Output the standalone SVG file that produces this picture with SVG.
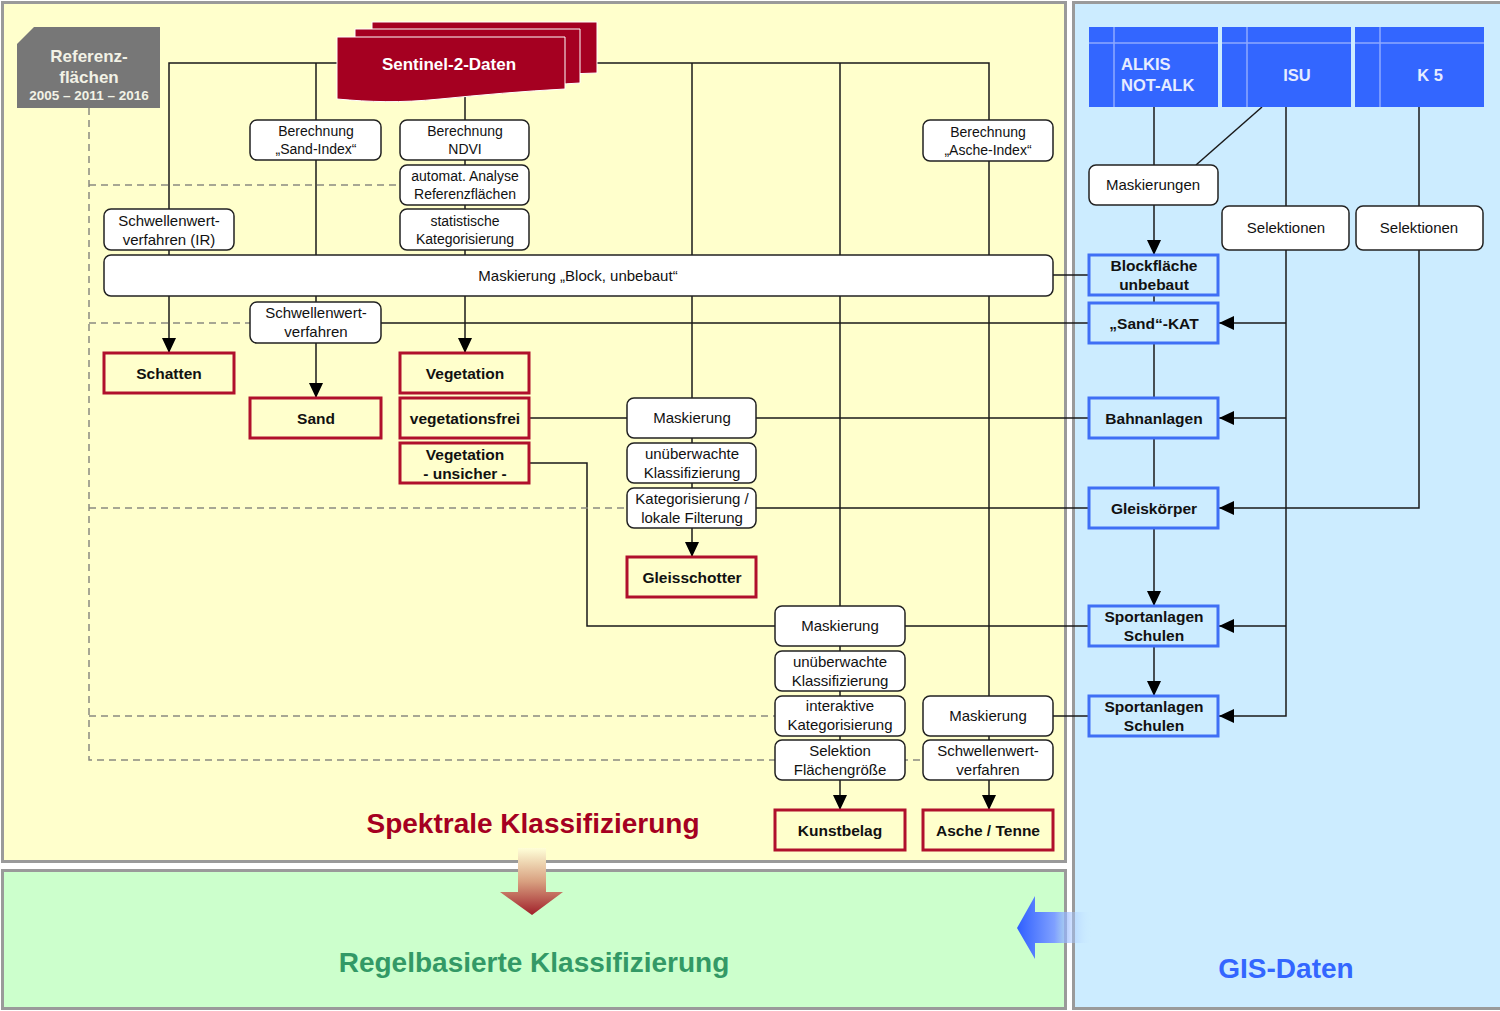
<svg xmlns="http://www.w3.org/2000/svg" width="1500" height="1011" viewBox="0 0 1500 1011">
<defs>
<style>
.t{font-family:"Liberation Sans",Arial,sans-serif;fill:#111;text-anchor:middle}
.s14{font-size:14px}
.s15{font-size:15px}
.b{font-size:15.5px;font-weight:bold}
.n{fill:#fff;stroke:#222;stroke-width:1.5}
.r{fill:#FFFFCC;stroke:#B0102C;stroke-width:3}
.g{fill:#CCECFF;stroke:#3F6FF5;stroke-width:3}
.c{fill:none;stroke:#1a1a1a;stroke-width:1.5}
.d{fill:none;stroke:#8a8a80;stroke-width:1.5;stroke-dasharray:7 5}
.hb{fill:#3366FF}
.hl{stroke:#8FAAFF;stroke-width:1.5}
.ht{font-family:"Liberation Sans",Arial,sans-serif;font-size:16.5px;font-weight:bold;fill:#E6ECFF}
</style>
<marker id="ah" markerUnits="userSpaceOnUse" markerWidth="15" markerHeight="14" refX="15" refY="7" orient="auto">
<path d="M0,0 L15,7 L0,14 Z" fill="#000"/>
</marker>
<linearGradient id="redg" x1="0" y1="0" x2="0" y2="1">
<stop offset="0" stop-color="#FFFFD8"/>
<stop offset="0.5" stop-color="#D8A080"/>
<stop offset="1" stop-color="#A0202A"/>
</linearGradient>
<linearGradient id="blug" gradientUnits="userSpaceOnUse" x1="1017" y1="0" x2="1092" y2="0">
<stop offset="0" stop-color="#2F5FFF"/>
<stop offset="0.5" stop-color="#7FA0FF"/>
<stop offset="1" stop-color="#CCECFF" stop-opacity="0"/>
</linearGradient>
</defs>

<rect width="1500" height="1011" fill="#fff"/>
<g id="panels">
<rect x="2.5" y="2.5" width="1063" height="859" fill="#FFFFCC" stroke="#9A9A9A" stroke-width="3"/>
<rect x="2.5" y="870.5" width="1063" height="138" fill="#CCFFCC" stroke="#9A9A9A" stroke-width="3"/>
<rect x="1073.5" y="2.5" width="1423" height="1006" fill="#CCECFF" stroke="#9A9A9A" stroke-width="3" transform="translate(0,0)"/>
</g>

<g id="connectors">
<path class="c" d="M169,209 V63 H989 V120"/>
<path class="c" d="M169,250 V255"/>
<path class="c" d="M169,296 V353" marker-end="url(#ah)"/>
<path class="c" d="M316,63 V302"/>
<path class="c" d="M316,343 V398" marker-end="url(#ah)"/>
<path class="c" d="M465,95 V353" marker-end="url(#ah)"/>
<path class="c" d="M692,63 V557" marker-end="url(#ah)"/>
<path class="c" d="M840,63 V810" marker-end="url(#ah)"/>
<path class="c" d="M989,161 V810" marker-end="url(#ah)"/>
<path class="c" d="M1053,275 H1089"/>
<path class="c" d="M381,323 H1089"/>
<path class="c" d="M529,418 H1089"/>
<path class="c" d="M756,508 H1089"/>
<path class="c" d="M529,463 H587 V626 H1089"/>
<path class="c" d="M1053,716 H1089"/>
<path class="c" d="M1154,107 V255" marker-end="url(#ah)"/>
<path class="c" d="M1154,295 V303"/>
<path class="c" d="M1154,343 V488"/>
<path class="c" d="M1154,528 V606" marker-end="url(#ah)"/>
<path class="c" d="M1154,646 V696" marker-end="url(#ah)"/>
<path class="c" d="M1262,107 L1196,165"/>
<path class="c" d="M1286,107 V206"/>
<path class="c" d="M1286,250 V716 H1219" marker-end="url(#ah)"/>
<path class="c" d="M1286,323 H1219" marker-end="url(#ah)"/>
<path class="c" d="M1286,418 H1219" marker-end="url(#ah)"/>
<path class="c" d="M1286,626 H1219" marker-end="url(#ah)"/>
<path class="c" d="M1419,107 V206"/>
<path class="c" d="M1419,250 V508 H1219" marker-end="url(#ah)"/>
<path class="d" d="M89,108 V760 H923"/>
<path class="d" d="M89,185 H400"/>
<path class="d" d="M89,323 H250"/>
<path class="d" d="M89,508 H627"/>
<path class="d" d="M89,716 H775"/>
</g>

<g id="referenz">
<polygon points="17,44 34,27 160,27 160,108 17,108" fill="#777"/>
<text x="89" y="62" style="font-family:'Liberation Sans',Arial,sans-serif;font-size:17px;font-weight:bold;fill:#F2F2E6;text-anchor:middle">Referenz-</text>
<text x="89" y="83" style="font-family:'Liberation Sans',Arial,sans-serif;font-size:17px;font-weight:bold;fill:#F2F2E6;text-anchor:middle">flächen</text>
<text x="89" y="100" style="font-family:'Liberation Sans',Arial,sans-serif;font-size:13.5px;font-weight:bold;fill:#F2F2E6;text-anchor:middle">2005 – 2011 – 2016</text>
</g>

<g id="sentinel">
<path d="M372,22 H597 V73 C560,74 520,77 480,79 L372,79 Z" fill="#A50021" stroke="#fff" stroke-width="1"/>
<path d="M355,29 H580 V83 C545,85 505,88 465,90 L355,90 Z" fill="#A50021" stroke="#fff" stroke-width="1"/>
<path d="M337,37 H565 V89 C525,91 480,95 440,99 C400,103 370,102 337,99 Z" fill="#A50021" stroke="#fff" stroke-width="1"/>
<text x="449" y="70" style="font-family:'Liberation Sans',Arial,sans-serif;font-size:17px;font-weight:bold;fill:#fff;text-anchor:middle">Sentinel-2-Daten</text>
</g>

<g id="n-sandidx"><rect class="n" x="250" y="120" width="131" height="40" rx="7"/><text class="t s14" x="316" y="136">Berechnung</text><text class="t s14" x="316" y="154">„Sand-Index“</text></g>
<g id="n-ndvi"><rect class="n" x="400" y="120" width="129" height="40" rx="7"/><text class="t s14" x="465" y="136">Berechnung</text><text class="t s14" x="465" y="154">NDVI</text></g>
<g id="n-auto"><rect class="n" x="400" y="165" width="129" height="40" rx="7"/><text class="t s14" x="465" y="181">automat. Analyse</text><text class="t s14" x="465" y="199">Referenzflächen</text></g>
<g id="n-stat"><rect class="n" x="400" y="209" width="129" height="41" rx="7"/><text class="t s14" x="465" y="226">statistische</text><text class="t s14" x="465" y="244">Kategorisierung</text></g>
<g id="n-asche"><rect class="n" x="923" y="120" width="130" height="41" rx="7"/><text class="t s14" x="988" y="137">Berechnung</text><text class="t s14" x="988" y="155">„Asche-Index“</text></g>
<g id="n-swir"><rect class="n" x="104" y="209" width="130" height="41" rx="7"/><text class="t s15" x="169" y="226">Schwellenwert-</text><text class="t s15" x="169" y="245">verfahren (IR)</text></g>
<g id="n-block"><rect class="n" x="104" y="255" width="949" height="41" rx="7"/><text class="t s15" x="578" y="281">Maskierung „Block, unbebaut“</text></g>
<g id="n-sw2"><rect class="n" x="250" y="302" width="131" height="41" rx="7"/><text class="t s15" x="316" y="318">Schwellenwert-</text><text class="t s15" x="316" y="337">verfahren</text></g>
<g id="n-mask1"><rect class="n" x="627" y="398" width="129" height="40" rx="7"/><text class="t s15" x="692" y="423">Maskierung</text></g>
<g id="n-unue1"><rect class="n" x="627" y="443" width="129" height="40" rx="7"/><text class="t s15" x="692" y="459">unüberwachte</text><text class="t s15" x="692" y="478">Klassifizierung</text></g>
<g id="n-kat"><rect class="n" x="627" y="488" width="129" height="40" rx="7"/><text class="t s15" x="692" y="504">Kategorisierung /</text><text class="t s15" x="692" y="523">lokale Filterung</text></g>
<g id="n-mask2"><rect class="n" x="775" y="606" width="130" height="40" rx="7"/><text class="t s15" x="840" y="631">Maskierung</text></g>
<g id="n-unue2"><rect class="n" x="775" y="651" width="130" height="40" rx="7"/><text class="t s15" x="840" y="667">unüberwachte</text><text class="t s15" x="840" y="686">Klassifizierung</text></g>
<g id="n-inter"><rect class="n" x="775" y="696" width="130" height="40" rx="7"/><text class="t s15" x="840" y="711">interaktive</text><text class="t s15" x="840" y="730">Kategorisierung</text></g>
<g id="n-sel"><rect class="n" x="775" y="740" width="130" height="40" rx="7"/><text class="t s15" x="840" y="756">Selektion</text><text class="t s15" x="840" y="775">Flächengröße</text></g>
<g id="n-mask3"><rect class="n" x="923" y="696" width="130" height="40" rx="7"/><text class="t s15" x="988" y="721">Maskierung</text></g>
<g id="n-sw3"><rect class="n" x="923" y="740" width="130" height="40" rx="7"/><text class="t s15" x="988" y="756">Schwellenwert-</text><text class="t s15" x="988" y="775">verfahren</text></g>

<g id="r-schatten"><rect class="r" x="104" y="353" width="130" height="40"/><text class="t b" x="169" y="379">Schatten</text></g>
<g id="r-sand"><rect class="r" x="250" y="398" width="131" height="40"/><text class="t b" x="316" y="424">Sand</text></g>
<g id="r-veg"><rect class="r" x="400" y="353" width="129" height="40"/><text class="t b" x="465" y="379">Vegetation</text></g>
<g id="r-vegfrei"><rect class="r" x="400" y="398" width="129" height="40"/><text class="t b" x="465" y="424">vegetationsfrei</text></g>
<g id="r-vegun"><rect class="r" x="400" y="443" width="129" height="40"/><text class="t b" x="465" y="460">Vegetation</text><text class="t b" x="465" y="479">- unsicher -</text></g>
<g id="r-gleis"><rect class="r" x="627" y="557" width="129" height="40"/><text class="t b" x="692" y="583">Gleisschotter</text></g>
<g id="r-kunst"><rect class="r" x="775" y="810" width="130" height="40"/><text class="t b" x="840" y="836">Kunstbelag</text></g>
<g id="r-asche"><rect class="r" x="923" y="810" width="130" height="40"/><text class="t b" x="988" y="836">Asche / Tenne</text></g>

<g id="h-alkis"><rect class="hb" x="1089" y="27" width="129" height="80"/><line class="hl" x1="1089" y1="43" x2="1218" y2="43"/><line class="hl" x1="1114" y1="27" x2="1114" y2="107"/><text class="ht" x="1121" y="70">ALKIS</text><text class="ht" x="1121" y="91">NOT-ALK</text></g>
<g id="h-isu"><rect class="hb" x="1222" y="27" width="129" height="80"/><line class="hl" x1="1222" y1="43" x2="1351" y2="43"/><line class="hl" x1="1247" y1="27" x2="1247" y2="107"/><text class="ht" x="1297" y="81" text-anchor="middle">ISU</text></g>
<g id="h-k5"><rect class="hb" x="1355" y="27" width="129" height="80"/><line class="hl" x1="1355" y1="43" x2="1484" y2="43"/><line class="hl" x1="1380" y1="27" x2="1380" y2="107"/><text class="ht" x="1430" y="81" text-anchor="middle">K 5</text></g>

<g id="n-maskgis"><rect class="n" x="1089" y="165" width="129" height="40" rx="7"/><text class="t s15" x="1153" y="190">Maskierungen</text></g>
<g id="n-sel1"><rect class="n" x="1222" y="206" width="127" height="44" rx="7"/><text class="t s15" x="1286" y="233">Selektionen</text></g>
<g id="n-sel2"><rect class="n" x="1356" y="206" width="127" height="44" rx="7"/><text class="t s15" x="1419" y="233">Selektionen</text></g>

<g id="g-block"><rect class="g" x="1089" y="255" width="129" height="40"/><text class="t b" x="1154" y="271">Blockfläche</text><text class="t b" x="1154" y="290">unbebaut</text></g>
<g id="g-sandkat"><rect class="g" x="1089" y="303" width="129" height="40"/><text class="t b" x="1154" y="329">„Sand“-KAT</text></g>
<g id="g-bahn"><rect class="g" x="1089" y="398" width="129" height="40"/><text class="t b" x="1154" y="424">Bahnanlagen</text></g>
<g id="g-gleis"><rect class="g" x="1089" y="488" width="129" height="40"/><text class="t b" x="1154" y="514">Gleiskörper</text></g>
<g id="g-sport1"><rect class="g" x="1089" y="606" width="129" height="40"/><text class="t b" x="1154" y="622">Sportanlagen</text><text class="t b" x="1154" y="641">Schulen</text></g>
<g id="g-sport2"><rect class="g" x="1089" y="696" width="129" height="40"/><text class="t b" x="1154" y="712">Sportanlagen</text><text class="t b" x="1154" y="731">Schulen</text></g>

<g id="titles">
<text x="533" y="833" style="font-family:'Liberation Sans',Arial,sans-serif;font-size:28px;font-weight:bold;fill:#A50021;text-anchor:middle">Spektrale Klassifizierung</text>
<text x="534" y="972" style="font-family:'Liberation Sans',Arial,sans-serif;font-size:28px;font-weight:bold;fill:#339966;text-anchor:middle">Regelbasierte Klassifizierung</text>
<text x="1286" y="978" style="font-family:'Liberation Sans',Arial,sans-serif;font-size:28px;font-weight:bold;fill:#3366FF;text-anchor:middle">GIS-Daten</text>
</g>

<g id="big-arrows">
<polygon points="518,848 546,848 546,892 563,892 532,915 500,892 518,892" fill="url(#redg)"/>
<polygon points="1017,928 1035,896 1035,912 1092,912 1092,943 1035,943 1035,959" fill="url(#blug)"/>
</g>
</svg>
